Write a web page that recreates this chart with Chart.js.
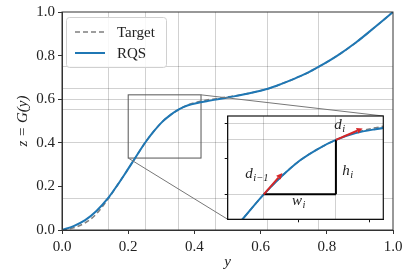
<!DOCTYPE html>
<html><head><meta charset="utf-8">
<script src="https://cdn.jsdelivr.net/npm/chart.js@4"></script>
<style>
html,body{margin:0;padding:0;background:#fff;}
#wrap{position:relative;width:407px;height:271px;}
#main{position:absolute;left:0;top:0;}
#inset{position:absolute;left:219px;top:108px;}
</style></head><body>
<div id="wrap"><canvas id="main" width="407" height="271"></canvas><canvas id="inset" width="172" height="118"></canvas></div>
<script>
// ---- data ----
const xs     = [0, 0.035, 0.07, 0.104, 0.139, 0.167, 0.195, 0.223, 0.251, 0.277, 0.302, 0.328, 0.353, 0.381, 0.409, 0.437, 0.465, 0.504, 0.544, 0.583, 0.622, 0.661, 0.699, 0.738, 0.776, 0.832, 0.888, 0.944, 1.0];
const rqs    = [0, 0.018, 0.045, 0.087, 0.146, 0.205, 0.269, 0.335, 0.400, 0.452, 0.495, 0.528, 0.553, 0.572, 0.583, 0.591, 0.598, 0.609, 0.620, 0.633, 0.648, 0.669, 0.692, 0.718, 0.749, 0.800, 0.860, 0.929, 1.0];
const target = [0, 0.010, 0.033, 0.074, 0.142, 0.205, 0.269, 0.335, 0.400, 0.452, 0.495, 0.528, 0.553, 0.574, 0.587, 0.596, 0.602, 0.611, 0.621, 0.633, 0.648, 0.669, 0.692, 0.718, 0.749, 0.800, 0.860, 0.929, 1.0];
const knotX = [0.139, 0.251, 0.353, 0.465, 0.622, 0.776];
const knotY = [0.146, 0.400, 0.553, 0.598, 0.648, 0.749];
const tickVals = [0, 0.2, 0.4, 0.6, 0.8, 1.0];
const insetX = [0.2, 0.42];
const insetY = [0.33, 0.62];
const insetXTicks = [0.3, 0.4];
const insetYTicks = [0.4, 0.5, 0.6];
const binX = [0.251, 0.353];      // knot i-1, knot i
const binY = [0.400, 0.553];
const slopes = [2.27, 0.85];      // d_{i-1}, d_i
const arrowDx = [0.0263, 0.0378];
const annLabels = [
  {t:'d', s:'i\u22121', x:0.2249, y:0.4469},
  {t:'d', s:'i',        x:0.3508, y:0.5828},
  {t:'h', s:'i',        x:0.3618, y:0.4553},
  {t:'w', s:'i',        x:0.2910, y:0.3710}
];

const BLUE = '#1f77b4', GREY = '#7f7f7f', SERIF = "'Liberation Serif', 'DejaVu Serif', serif";
Chart.defaults.font.family = SERIF;
Chart.defaults.animation = false;
const pts = a => xs.map((x, i) => ({x, y: a[i]}));
const setTicks = vals => s => { s.ticks = vals.filter(v => v >= s.min - 1e-9 && v <= s.max + 1e-9).map(v => ({value: v})); };
let insetChart = null;

const lineDs = (label, arr, color, dash, order) => ({
  label, data: pts(arr), borderColor: color, borderDash: dash, borderWidth: dash.length ? 1.6 : 2,
  pointRadius: 0, cubicInterpolationMode: 'monotone', fill: false, order
});

// ---- main chart ----
const mainPlugin = {
  id: 'mainDeco',
  beforeDatasetsDraw(c) {
    const {ctx, scales: {x, y}} = c;
    ctx.save();
    ctx.strokeStyle = '#555'; ctx.lineWidth = 1;
    const x0 = x.getPixelForValue(insetX[0]), x1 = x.getPixelForValue(insetX[1]);
    const y0 = y.getPixelForValue(insetY[0]), y1 = y.getPixelForValue(insetY[1]);
    ctx.strokeRect(x0, y1, x1 - x0, y0 - y1);
    ctx.restore();
  },
  afterDraw(c) {
    const {ctx, chartArea: a, scales: {x, y}} = c;
    ctx.save();
    ctx.strokeStyle = '#333'; ctx.lineWidth = 1;
    ctx.strokeRect(a.left, a.top, a.right - a.left, a.bottom - a.top);
    if (insetChart) {
      const cv = insetChart.canvas, ia = insetChart.chartArea;
      const ox = cv.offsetLeft, oy = cv.offsetTop;
      ctx.strokeStyle = '#777'; ctx.lineWidth = 1;
      ctx.beginPath();
      ctx.moveTo(x.getPixelForValue(insetX[1]), y.getPixelForValue(insetY[1]));
      ctx.lineTo(ox + ia.right, oy + ia.top);
      ctx.moveTo(x.getPixelForValue(insetX[0]), y.getPixelForValue(insetY[0]));
      ctx.lineTo(ox + ia.left, oy + ia.bottom);
      ctx.stroke();
    }
    // legend
    const lx = a.left + 4, ly = a.top + 5, lw = 100, lh = 50;
    ctx.beginPath();
    ctx.roundRect(lx + 0.5, ly + 0.5, lw, lh, 3);
    ctx.fillStyle = 'rgba(255,255,255,0.85)'; ctx.fill();
    ctx.strokeStyle = '#d0d0d0'; ctx.stroke();
    const items = [c.data.datasets[1], c.data.datasets[0]];
    items.forEach((d, i) => {
      const yy = ly + 15 + i * 21;
      ctx.beginPath();
      ctx.setLineDash(d.borderDash || []);
      ctx.strokeStyle = d.borderColor; ctx.lineWidth = d.borderWidth;
      ctx.moveTo(lx + 9, yy); ctx.lineTo(lx + 39, yy); ctx.stroke();
      ctx.setLineDash([]);
      ctx.fillStyle = '#222'; ctx.font = '15px ' + SERIF; ctx.textBaseline = 'middle';
      ctx.fillText(d.label, lx + 51, yy + 1);
    });
    ctx.restore();
  }
};

const mainChart = new Chart(document.getElementById('main'), {
  type: 'line',
  data: { datasets: [ lineDs('RQS', rqs, BLUE, [], 1), lineDs('Target', target, GREY, [5, 3], 2) ] },
  options: {
    responsive: false, animation: false,
    layout: { padding: { top: 11, right: 14, left: 0, bottom: 0 } },
    plugins: { legend: { display: false }, tooltip: { enabled: false } },
    scales: {
      x: { type: 'linear', min: 0, max: 1, afterBuildTicks: setTicks(tickVals),
        ticks: { callback: v => v.toFixed(1), color: '#222', font: { size: 15 }, padding: 4, maxRotation: 0, autoSkip: false },
        grid: { drawOnChartArea: false, drawTicks: true, tickLength: 4, color: '#333' },
        border: { color: '#333' },
        title: { display: true, text: 'y', color: '#222', font: { style: 'italic', size: 15 }, padding: { top: 0, bottom: 0 } },
        afterFit: s => { s.height = 41; } },
      y: { type: 'linear', min: 0, max: 1, afterBuildTicks: setTicks(tickVals),
        ticks: { callback: v => v.toFixed(1), color: '#222', font: { size: 15 }, padding: 3, autoSkip: false },
        grid: { drawOnChartArea: false, drawTicks: true, tickLength: 4, color: '#333' },
        border: { color: '#333' },
        title: { display: true, text: 'z = G(y)', color: '#222', font: { style: 'italic', size: 15 }, padding: { top: 14, bottom: 0 } },
        afterFit: s => { s.width = 62; } },
      xg: { type: 'linear', min: 0, max: 1, position: 'bottom', afterBuildTicks: setTicks(knotX),
        ticks: { display: false }, grid: { color: 'rgba(0,0,0,0.18)', drawTicks: false }, border: { display: false },
        afterFit: s => { s.height = 0; } },
      yg: { type: 'linear', min: 0, max: 1, position: 'left', afterBuildTicks: setTicks(knotY),
        ticks: { display: false }, grid: { color: 'rgba(0,0,0,0.18)', drawTicks: false }, border: { display: false },
        afterFit: s => { s.width = 0; } }
    }
  },
  plugins: [mainPlugin]
});

// ---- inset chart ----
function drawSub(ctx, t, s, px, py) {
  ctx.font = 'italic 15px ' + SERIF;
  ctx.fillText(t, px, py);
  const w = ctx.measureText(t).width;
  ctx.font = 'italic 10.5px ' + SERIF;
  ctx.fillText(s, px + w + 0.5, py + 3);
}
const insetPlugin = {
  id: 'insetDeco',
  beforeDraw(c) {
    const {ctx, chartArea: a} = c;
    ctx.save(); ctx.fillStyle = '#fff';
    ctx.fillRect(a.left, a.top, a.right - a.left, a.bottom - a.top);
    ctx.restore();
  },
  afterDatasetsDraw(c) {
    const {ctx, scales: {x, y}} = c;
    ctx.save();
    ctx.beginPath(); ctx.rect(c.chartArea.left, c.chartArea.top, c.chartArea.right - c.chartArea.left, c.chartArea.bottom - c.chartArea.top); ctx.clip();
    ctx.strokeStyle = '#d62728'; ctx.fillStyle = '#d62728'; ctx.lineWidth = 2;
    for (let k = 0; k < 2; k++) {
      const sx = x.getPixelForValue(binX[k]), sy = y.getPixelForValue(binY[k]);
      const ex = x.getPixelForValue(binX[k] + arrowDx[k]), ey = y.getPixelForValue(binY[k] + slopes[k] * arrowDx[k]);
      const ang = Math.atan2(ey - sy, ex - sx), hl = 6, hw = 3;
      const bx = ex - hl * Math.cos(ang), by = ey - hl * Math.sin(ang);
      ctx.beginPath(); ctx.moveTo(sx, sy); ctx.lineTo(bx, by); ctx.stroke();
      ctx.beginPath(); ctx.moveTo(ex, ey);
      ctx.lineTo(bx + hw * Math.sin(ang), by - hw * Math.cos(ang));
      ctx.lineTo(bx - hw * Math.sin(ang), by + hw * Math.cos(ang));
      ctx.closePath(); ctx.fill();
    }
    ctx.restore();
    ctx.save();
    ctx.fillStyle = '#222'; ctx.textBaseline = 'alphabetic';
    annLabels.forEach(l => drawSub(ctx, l.t, l.s, x.getPixelForValue(l.x), y.getPixelForValue(l.y)));
    ctx.restore();
  },
  afterDraw(c) {
    const {ctx, chartArea: a} = c;
    ctx.save(); ctx.strokeStyle = '#111'; ctx.lineWidth = 1.2;
    ctx.strokeRect(a.left, a.top, a.right - a.left, a.bottom - a.top);
    ctx.restore();
  }
};
insetChart = new Chart(document.getElementById('inset'), {
  type: 'line',
  data: { datasets: [
    lineDs('RQS', rqs, BLUE, [], 2),
    lineDs('Target', target, GREY, [5, 3], 3),
    { label: 'w', data: [{x: binX[0], y: binY[0]}, {x: binX[1], y: binY[0]}], borderColor: '#000', borderWidth: 2, pointRadius: 0, order: 1 },
    { label: 'h', data: [{x: binX[1], y: binY[0]}, {x: binX[1], y: binY[1]}], borderColor: '#000', borderWidth: 2, pointRadius: 0, order: 1 }
  ] },
  options: {
    responsive: false, animation: false,
    layout: { padding: { top: 8, right: 7.7, left: 0, bottom: 0 } },
    plugins: { legend: { display: false }, tooltip: { enabled: false } },
    scales: {
      x: { type: 'linear', min: insetX[0], max: insetX[1], afterBuildTicks: setTicks(insetXTicks),
        ticks: { display: false }, grid: { drawOnChartArea: false, drawTicks: true, tickLength: 3, color: '#111' },
        border: { color: '#111' }, afterFit: s => { s.height = 6.7; } },
      y: { type: 'linear', min: insetY[0], max: insetY[1], afterBuildTicks: setTicks(insetYTicks),
        ticks: { display: false }, grid: { drawOnChartArea: false, drawTicks: true, tickLength: 3, color: '#111' },
        border: { color: '#111' }, afterFit: s => { s.width = 8.7; } },
      xg: { type: 'linear', min: insetX[0], max: insetX[1], position: 'bottom', afterBuildTicks: setTicks(knotX),
        ticks: { display: false }, grid: { color: 'rgba(0,0,0,0.18)', drawTicks: false }, border: { display: false },
        afterFit: s => { s.height = 0; } },
      yg: { type: 'linear', min: insetY[0], max: insetY[1], position: 'left', afterBuildTicks: setTicks(knotY),
        ticks: { display: false }, grid: { color: 'rgba(0,0,0,0.18)', drawTicks: false }, border: { display: false },
        afterFit: s => { s.width = 0; } }
    }
  },
  plugins: [insetPlugin]
});
mainChart.draw();
</script>
</body></html>
